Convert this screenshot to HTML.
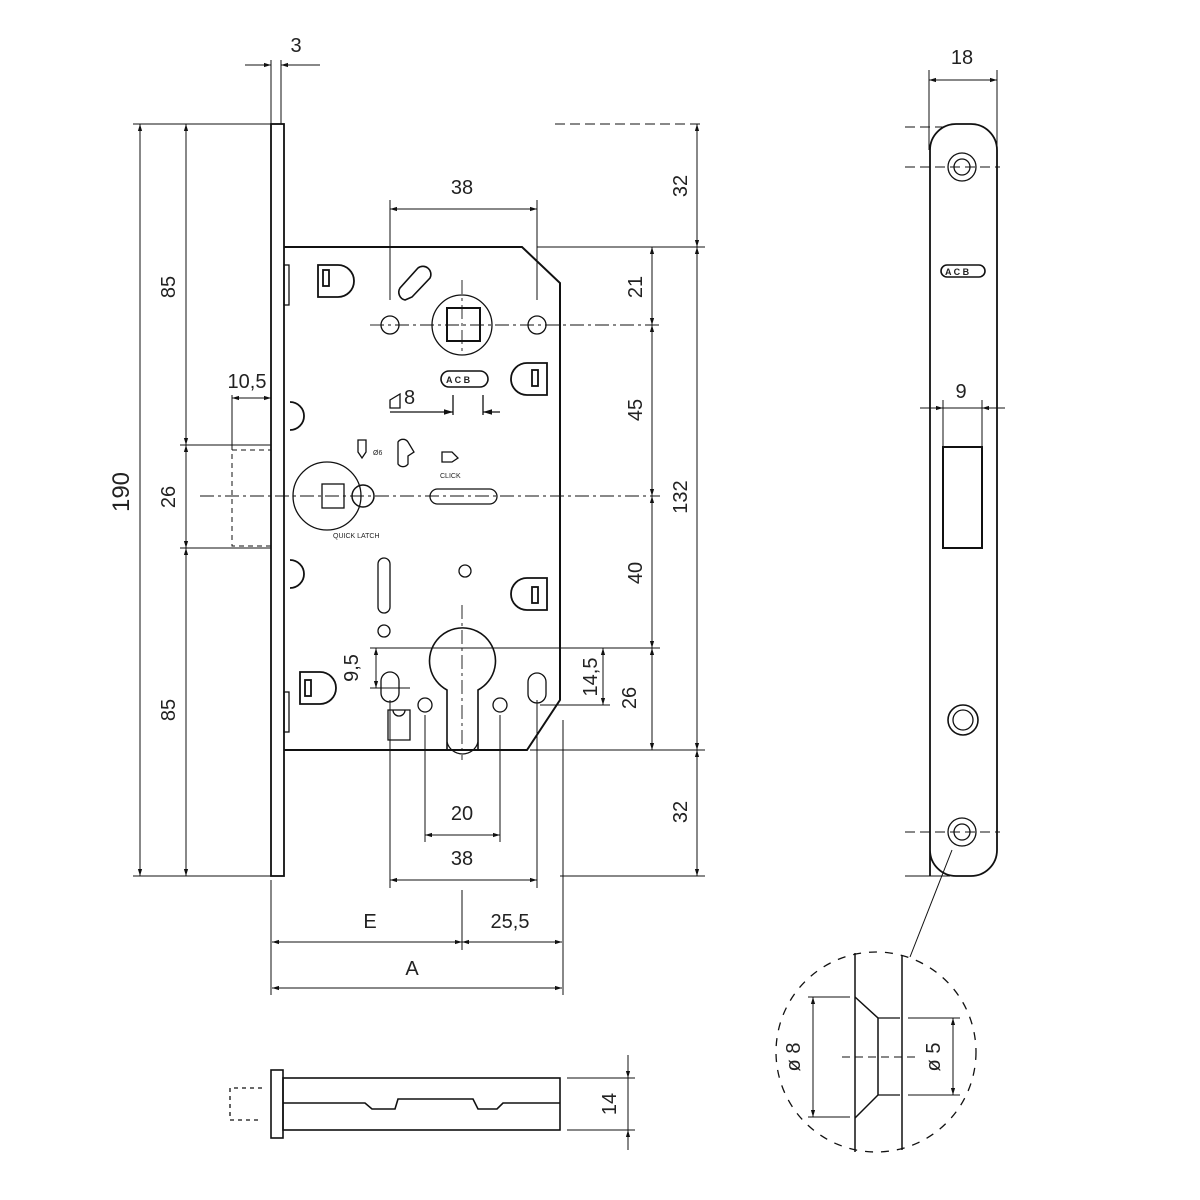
<!DOCTYPE html>
<html><head><meta charset="utf-8"><style>
html,body{margin:0;padding:0;background:#fff;}
svg{display:block;}
text{font-family:"Liberation Sans",sans-serif;fill:#222;}
</style></head><body>
<svg width="1200" height="1200" viewBox="0 0 1200 1200" xmlns="http://www.w3.org/2000/svg">
<defs>
<marker id="a" viewBox="0 0 10 10" refX="10" refY="5" markerWidth="7" markerHeight="7" orient="auto-start-reverse"><path d="M0,2 L10,5 L0,8z" fill="#111"/></marker>
</defs>
<g stroke="#111" fill="none" stroke-width="1.3">
<!-- faceplate -->
<rect x="271" y="124" width="13" height="752" stroke-width="1.8"/>
<!-- body -->
<path d="M284,247 L522,247 L560,283 L560,700 L527,750 L284,750" stroke-width="2"/>
<rect x="284" y="265" width="5" height="40"/><rect x="284" y="692" width="5" height="40"/>
<!-- dim lines left -->
<line x1="133" y1="124" x2="271" y2="124" stroke-width="1"/>
<line x1="133" y1="876" x2="271" y2="876" stroke-width="1"/>
<line x1="140" y1="124" x2="140" y2="876" marker-start="url(#a)" marker-end="url(#a)" stroke-width="1"/>
<line x1="186" y1="124" x2="186" y2="445" marker-start="url(#a)" marker-end="url(#a)" stroke-width="1"/>
<line x1="186" y1="445" x2="186" y2="548" marker-start="url(#a)" marker-end="url(#a)" stroke-width="1"/>
<line x1="186" y1="548" x2="186" y2="876" marker-start="url(#a)" marker-end="url(#a)" stroke-width="1"/>
<line x1="180" y1="445" x2="271" y2="445" stroke-width="1"/>
<line x1="180" y1="548" x2="271" y2="548" stroke-width="1"/>
<rect x="232" y="450" width="39" height="96" stroke-dasharray="5,4" stroke-width="1"/>
<line x1="232" y1="398" x2="271" y2="398" marker-start="url(#a)" marker-end="url(#a)" stroke-width="1"/>
<line x1="232" y1="395" x2="232" y2="450" stroke-width="1"/>
<!-- 3 dim -->
<line x1="271" y1="60" x2="271" y2="124" stroke-width="1"/><line x1="281" y1="60" x2="281" y2="124" stroke-width="1"/>
<line x1="245" y1="65" x2="271" y2="65" marker-end="url(#a)" stroke-width="1"/>
<line x1="320" y1="65" x2="281" y2="65" marker-end="url(#a)" stroke-width="1"/>
<!-- right dim lines -->
<line x1="555" y1="124" x2="705" y2="124" stroke-dasharray="10,5" stroke-width="1"/>
<line x1="560" y1="876" x2="705" y2="876" stroke-width="1"/>
<line x1="697" y1="124" x2="697" y2="247" marker-start="url(#a)" marker-end="url(#a)" stroke-width="1"/>
<line x1="697" y1="247" x2="697" y2="750" marker-start="url(#a)" marker-end="url(#a)" stroke-width="1"/>
<line x1="697" y1="750" x2="697" y2="876" marker-start="url(#a)" marker-end="url(#a)" stroke-width="1"/>
<line x1="537" y1="247" x2="705" y2="247" stroke-width="1"/>
<line x1="530" y1="750" x2="705" y2="750" stroke-width="1"/>
<line x1="652" y1="247" x2="652" y2="325" marker-start="url(#a)" marker-end="url(#a)" stroke-width="1"/>
<line x1="652" y1="325" x2="652" y2="496" marker-start="url(#a)" marker-end="url(#a)" stroke-width="1"/>
<line x1="652" y1="496" x2="652" y2="648" marker-start="url(#a)" marker-end="url(#a)" stroke-width="1"/>
<line x1="652" y1="648" x2="652" y2="750" marker-start="url(#a)" marker-end="url(#a)" stroke-width="1"/>
<line x1="603" y1="648" x2="603" y2="705" marker-start="url(#a)" marker-end="url(#a)" stroke-width="1"/>
<line x1="370" y1="648" x2="660" y2="648" stroke-width="1"/>
<line x1="540" y1="705" x2="610" y2="705" stroke-width="1"/>
<line x1="376" y1="648" x2="376" y2="688" marker-start="url(#a)" marker-end="url(#a)" stroke-width="1"/>
<line x1="370" y1="688" x2="410" y2="688" stroke-width="1"/>
<!-- centerlines -->
<g stroke-dasharray="14,4,3,4" stroke-width="0.9">
<line x1="370" y1="325" x2="660" y2="325"/>
<line x1="200" y1="496" x2="660" y2="496"/>
<line x1="462" y1="280" x2="462" y2="355"/>
<line x1="462" y1="605" x2="462" y2="760"/>
</g>
<!-- top 38 -->
<line x1="390" y1="200" x2="390" y2="300" stroke-width="1"/><line x1="537" y1="200" x2="537" y2="300" stroke-width="1"/>
<line x1="390" y1="209" x2="537" y2="209" marker-start="url(#a)" marker-end="url(#a)" stroke-width="1"/>
<!-- bottom dims -->
<line x1="425" y1="715" x2="425" y2="842" stroke-width="1"/><line x1="500" y1="715" x2="500" y2="842" stroke-width="1"/>
<line x1="425" y1="835" x2="500" y2="835" marker-start="url(#a)" marker-end="url(#a)" stroke-width="1"/>
<line x1="390" y1="700" x2="390" y2="888" stroke-width="1"/><line x1="537" y1="700" x2="537" y2="888" stroke-width="1"/>
<line x1="390" y1="880" x2="537" y2="880" marker-start="url(#a)" marker-end="url(#a)" stroke-width="1"/>
<line x1="271" y1="880" x2="271" y2="995" stroke-width="1"/>
<line x1="462" y1="890" x2="462" y2="950" stroke-width="1"/>
<line x1="563" y1="720" x2="563" y2="995" stroke-width="1"/>
<line x1="272" y1="942" x2="462" y2="942" marker-start="url(#a)" marker-end="url(#a)" stroke-width="1"/>
<line x1="462" y1="942" x2="562" y2="942" marker-start="url(#a)" marker-end="url(#a)" stroke-width="1"/>
<line x1="272" y1="988" x2="562" y2="988" marker-start="url(#a)" marker-end="url(#a)" stroke-width="1"/>
<!-- features -->
<circle cx="390" cy="325" r="9"/><circle cx="537" cy="325" r="9"/>
<circle cx="462" cy="325" r="30"/><rect x="447" y="308" width="33" height="33" stroke-width="2"/>
<path d="M405,300 a8,8 0 0 1 -5,-12 L418,268 a8,8 0 0 1 12,10 L412,297z" stroke-width="1.6"/>
<rect x="441" y="371" width="47" height="16" rx="8" stroke-width="1.6"/>
<circle cx="327" cy="496" r="34"/><rect x="322" y="484" width="22" height="24"/>
<circle cx="363" cy="496" r="11" stroke-width="1.5"/>
<rect x="430" y="489" width="67" height="15" rx="7.5"/>
<rect x="378" y="558" width="12" height="55" rx="6"/>
<circle cx="384" cy="631" r="6"/><circle cx="465" cy="571" r="6"/>
<path d="M447,750 L447,690 A33,33 0 1 1 478,690 L478,750" stroke-width="1.6"/>
<path d="M447,742 A16,16 0 0 0 478,742"/>
<rect x="381" y="672" width="18" height="30" rx="9"/><rect x="528" y="673" width="18" height="30" rx="9"/>
<circle cx="425" cy="705" r="7"/><circle cx="500" cy="705" r="7"/>
<path d="M388,710 L410,710 L410,740 L388,740z M393,710 a6,6 0 0 0 12,0"/>
<!-- handle shapes -->
<g stroke-width="1.8">
<path d="M318,265 L338,265 A15,15 0 0 1 338,297 L318,297z"/><rect x="323" y="270" width="6" height="16"/>
<path d="M547,363 L527,363 A15,15 0 0 0 527,395 L547,395z"/><rect x="532" y="370" width="6" height="16"/>
<path d="M547,578 L527,578 A15,15 0 0 0 527,610 L547,610z"/><rect x="532" y="587" width="6" height="16"/>
<path d="M300,672 L320,672 A15,15 0 0 1 320,704 L300,704z"/><rect x="305" y="680" width="6" height="16"/>
<path d="M290,402 a12,12 0 1 1 0,28"/><path d="M290,560 a12,12 0 1 1 0,28"/>
</g>
<path d="M358,440 L366,440 L366,452 L362,458 L358,452z"/>
<path d="M442,452 L452,452 L458,458 L452,462 L442,462z"/>
<path d="M398,442 a6,6 0 0 1 10,0 L414,452 L408,456 L408,464 a6,6 0 0 1 -10,0z"/>
<path d="M390,400 L400,394 L400,408 L390,408z"/>
<line x1="453" y1="395" x2="453" y2="415"/><line x1="483" y1="395" x2="483" y2="415"/>
<line x1="390" y1="412" x2="453" y2="412" marker-end="url(#a)"/><line x1="500" y1="412" x2="483" y2="412" marker-end="url(#a)"/>
<!-- bolt view -->
<rect x="271" y="1070" width="12" height="68" stroke-width="1.6"/>
<rect x="283" y="1078" width="277" height="52" stroke-width="1.6"/>
<path d="M283,1103 L365,1103 L372,1109 L395,1109 L398,1099 L473,1099 L478,1109 L497,1109 L503,1103 L560,1103" stroke-width="1.6"/>
<path d="M262,1088 L230,1088 L230,1120 L262,1120" stroke-dasharray="4,4"/>
<line x1="567" y1="1078" x2="635" y2="1078" stroke-width="1"/><line x1="567" y1="1130" x2="635" y2="1130" stroke-width="1"/>
<line x1="628" y1="1055" x2="628" y2="1078" marker-end="url(#a)" stroke-width="1"/>
<line x1="628" y1="1150" x2="628" y2="1130" marker-end="url(#a)" stroke-width="1"/>
<line x1="628" y1="1078" x2="628" y2="1130" stroke-width="1"/>
<!-- right faceplate -->
<path d="M930,876 L930,150 A26,26 0 0 1 956,124 L971,124 A26,26 0 0 1 997,150 L997,850 A26,26 0 0 1 971,876 L956,876 A26,26 0 0 1 930,850z" stroke-width="1.8"/>
<line x1="929" y1="70" x2="929" y2="150" stroke-width="1"/><line x1="997" y1="70" x2="997" y2="150" stroke-width="1"/>
<line x1="929" y1="80" x2="997" y2="80" marker-start="url(#a)" marker-end="url(#a)" stroke-width="1"/>
<line x1="905" y1="127" x2="950" y2="127" stroke-dasharray="10,5" stroke-width="1"/>
<line x1="905" y1="876" x2="950" y2="876" stroke-width="1"/>
<line x1="905" y1="167" x2="1000" y2="167" stroke-dasharray="10,5" stroke-width="1"/>
<line x1="905" y1="832" x2="1000" y2="832" stroke-dasharray="10,5" stroke-width="1"/>
<circle cx="962" cy="167" r="14"/><circle cx="962" cy="167" r="8"/>
<circle cx="962" cy="832" r="14"/><circle cx="962" cy="832" r="8"/>
<circle cx="963" cy="720" r="15" stroke-width="1.6"/><circle cx="963" cy="720" r="10"/>
<rect x="941" y="265" width="44" height="12" rx="6" stroke-width="1.6"/>
<rect x="943" y="447" width="39" height="101" stroke-width="2"/>
<line x1="943" y1="400" x2="943" y2="447" stroke-width="1"/><line x1="982" y1="400" x2="982" y2="447" stroke-width="1"/>
<line x1="920" y1="408" x2="943" y2="408" marker-end="url(#a)" stroke-width="1"/>
<line x1="1005" y1="408" x2="982" y2="408" marker-end="url(#a)" stroke-width="1"/>
<line x1="943" y1="408" x2="982" y2="408" stroke-width="1"/>
<!-- detail -->
<line x1="952" y1="850" x2="910" y2="957" stroke-width="1"/>
<circle cx="876" cy="1052" r="100" stroke-dasharray="8,8" stroke-width="1.3"/>
<line x1="855" y1="953" x2="855" y2="1152" stroke-width="1.5"/>
<line x1="902" y1="955" x2="902" y2="1150" stroke-width="1.5"/>
<path d="M855,997 L878,1018 L878,1095 L855,1118" stroke-width="1.5"/>
<line x1="878" y1="1018" x2="900" y2="1018"/><line x1="878" y1="1095" x2="900" y2="1095"/>
<line x1="808" y1="997" x2="850" y2="997" stroke-width="1"/><line x1="808" y1="1117" x2="850" y2="1117" stroke-width="1"/>
<line x1="813" y1="997" x2="813" y2="1117" marker-start="url(#a)" marker-end="url(#a)" stroke-width="1"/>
<line x1="908" y1="1018" x2="960" y2="1018" stroke-width="1"/><line x1="908" y1="1095" x2="960" y2="1095" stroke-width="1"/>
<line x1="953" y1="1018" x2="953" y2="1095" marker-start="url(#a)" marker-end="url(#a)" stroke-width="1"/>
<line x1="842" y1="1057" x2="915" y2="1057" stroke-dasharray="8,5" stroke-width="0.9"/>
</g>
<!-- labels -->
<g font-size="20">
<text x="296" y="52" text-anchor="middle">3</text>
<text x="462" y="194" text-anchor="middle">38</text>
<text x="247" y="388" text-anchor="middle">10,5</text>
<text x="462" y="820" text-anchor="middle">20</text>
<text x="462" y="865" text-anchor="middle">38</text>
<text x="370" y="928" text-anchor="middle">E</text>
<text x="510" y="928" text-anchor="middle">25,5</text>
<text x="412" y="975" text-anchor="middle">A</text>
<text x="962" y="64" text-anchor="middle">18</text>
<text x="961" y="398" text-anchor="middle">9</text>
<text x="404" y="404">8</text>
<text transform="translate(175,287) rotate(-90)" text-anchor="middle">85</text>
<text transform="translate(175,497) rotate(-90)" text-anchor="middle">26</text>
<text transform="translate(175,710) rotate(-90)" text-anchor="middle">85</text>
<text transform="translate(129,492) rotate(-90)" text-anchor="middle" font-size="24">190</text>
<text transform="translate(687,186) rotate(-90)" text-anchor="middle">32</text>
<text transform="translate(687,497) rotate(-90)" text-anchor="middle">132</text>
<text transform="translate(687,812) rotate(-90)" text-anchor="middle">32</text>
<text transform="translate(642,287) rotate(-90)" text-anchor="middle">21</text>
<text transform="translate(642,410) rotate(-90)" text-anchor="middle">45</text>
<text transform="translate(642,573) rotate(-90)" text-anchor="middle">40</text>
<text transform="translate(636,698) rotate(-90)" text-anchor="middle">26</text>
<text transform="translate(597,677) rotate(-90)" text-anchor="middle">14,5</text>
<text transform="translate(358,668) rotate(-90)" text-anchor="middle">9,5</text>
<text transform="translate(616,1104) rotate(-90)" text-anchor="middle">14</text>
<text transform="translate(800,1057) rotate(-90)" text-anchor="middle">ø 8</text>
<text transform="translate(940,1057) rotate(-90)" text-anchor="middle">ø 5</text>
</g>
<g font-size="7">
<text x="333" y="538">QUICK LATCH</text>
<text x="440" y="478">CLICK</text>
<text x="373" y="455">Ø6</text>
<text x="446" y="383" font-size="9" font-weight="bold">A C B</text>
<text x="945" y="275" font-size="9" font-weight="bold">A C B</text>
</g>
</svg>
</body></html>
